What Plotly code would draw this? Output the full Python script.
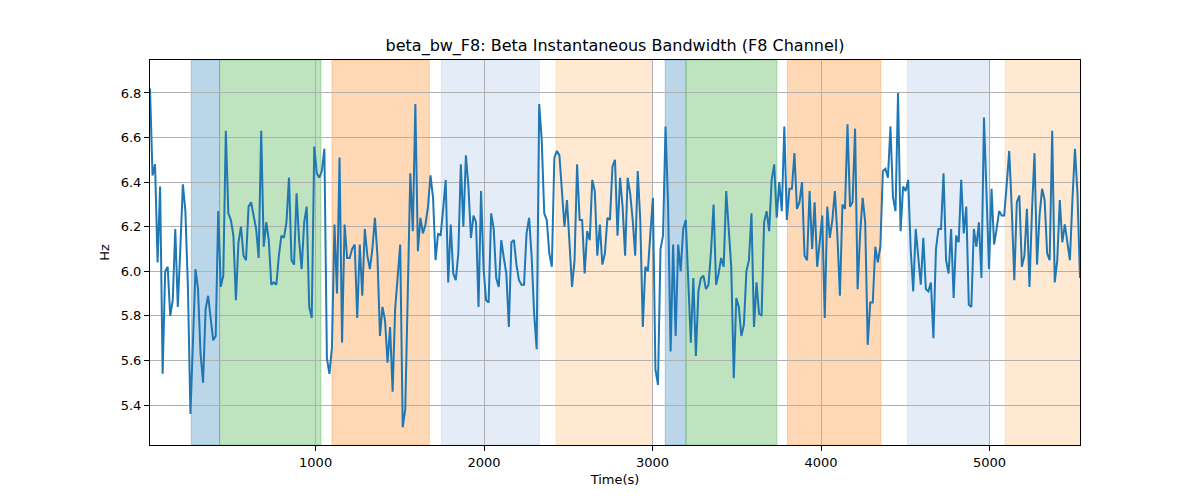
import plotly.graph_objects as go

# beta bandwidth, F8 channel, one sample every 15 s
t_start = 17
t_step = 15
beta_bw = [
    6.82, 6.43, 6.48, 6.04, 6.38, 5.54, 6.00, 6.02, 5.80, 5.87, 6.19, 5.84, 6.10, 6.39, 6.27, 5.93,
    5.36, 5.66, 6.01, 5.92, 5.63, 5.50, 5.83, 5.89, 5.80, 5.69, 5.71, 6.27, 5.93, 5.98, 6.63, 6.26,
    6.23, 6.16, 5.87, 6.13, 6.20, 6.07, 6.05, 6.29, 6.31, 6.25, 6.19, 6.06, 6.63, 6.11, 6.22, 6.14,
    5.94, 5.95, 5.94, 6.07, 6.16, 6.15, 6.22, 6.42, 6.05, 6.03, 6.35, 6.14, 6.01, 6.22, 6.29, 5.84,
    5.79, 6.56, 6.44, 6.42, 6.45, 6.55, 5.61, 5.54, 5.66, 6.21, 5.90, 6.51, 5.68, 6.21, 6.06, 6.06,
    6.10, 6.12, 5.79, 6.12, 5.89, 6.19, 6.07, 6.01, 6.10, 6.24, 6.07, 5.71, 5.84, 5.78, 5.59, 5.75,
    5.46, 5.83, 5.96, 6.12, 5.30, 5.38, 5.90, 6.44, 6.18, 6.75, 6.09, 6.24, 6.17, 6.21, 6.29, 6.43,
    6.33, 6.05, 6.17, 6.16, 6.28, 6.41, 5.95, 6.21, 5.99, 5.96,
    6.08, 6.48, 6.20, 6.52, 6.38, 6.15, 6.25, 6.22, 5.84, 6.36, 6.01, 5.87, 5.86, 6.26, 6.19, 5.97,
    5.93, 6.14, 6.06, 5.99, 5.75, 6.13, 6.14, 6.03, 5.96, 5.94, 5.94, 6.17, 6.24, 6.07, 5.81, 5.65,
    6.75, 6.59, 6.26, 6.23, 6.08, 6.02, 6.51, 6.54, 6.52, 6.36, 6.20, 6.32, 6.11, 5.93, 6.05, 6.48,
    6.23, 6.23, 5.99, 6.18, 6.14, 6.41, 6.36, 6.07, 6.21, 6.03, 6.08, 6.24, 6.23,
    6.47, 6.50, 6.16, 6.42, 6.29, 6.07, 6.42, 6.35, 6.23, 6.07, 6.45, 6.23, 5.75, 6.02, 6.00, 6.17,
    6.33, 5.56, 5.49, 6.10, 6.16, 6.65, 6.30, 5.64, 6.12, 5.71, 6.12, 6.00, 6.19, 6.23, 5.96, 5.68,
    5.97, 5.62, 5.91, 5.97, 5.98, 5.92, 5.94, 6.09, 6.30, 5.94, 5.99, 6.06, 6.02, 6.36, 6.19, 6.02,
    5.52, 5.88, 5.84, 5.71, 5.76, 6.00, 6.05, 6.26, 5.75, 5.95, 5.81,
    5.80, 6.22, 6.27, 6.18, 6.41, 6.48, 6.24, 6.40, 6.27, 6.65, 6.23, 6.37, 6.37, 6.53, 6.28, 6.31,
    6.40, 6.07, 6.05, 6.36, 6.10, 6.31, 6.02, 6.13, 6.25, 5.79, 6.29, 6.15, 6.23, 6.36, 6.16, 5.89,
    6.30, 6.28, 6.66, 6.29, 6.31, 6.64, 5.92, 6.17, 6.33, 6.22, 5.67, 5.86, 5.86, 6.11, 6.04, 6.11,
    6.45, 6.46, 6.42, 6.65, 6.33, 6.27, 6.80, 6.18, 6.38, 6.36, 6.41, 6.10, 5.91, 6.19, 6.05, 5.94,
    6.15, 5.92, 5.91, 5.95, 5.70, 6.10, 6.19, 6.19, 6.44, 6.05, 5.99, 6.19, 5.88, 6.16, 6.13, 6.41,
    6.17, 6.29, 5.85, 5.84, 6.19, 6.11, 6.22, 5.97, 6.69, 6.37, 6.01, 6.37, 6.12, 6.19, 6.27, 6.25,
    6.25, 6.39, 6.54, 6.28, 5.96, 6.31, 6.34, 6.02, 6.07, 6.28, 5.93, 6.27, 6.53, 6.03, 6.25, 6.37,
    6.32, 6.08, 6.05, 6.63, 5.95, 6.05, 6.32, 6.13, 6.21, 6.13, 6.05, 6.32, 6.55, 6.35, 5.97,
]
times = [t_start + t_step * i for i in range(len(beta_bw))]

# shaded epochs: start, end, colour
span_start = [262, 430, 1097, 1746, 2427, 3075, 3198, 3801, 4513, 5093]
span_end = [430, 1032, 1675, 2328, 3000, 3198, 3738, 4355, 5002, 5560]
span_color = [
    "rgba(31,119,180,0.3)", "rgba(44,160,44,0.3)", "rgba(255,127,14,0.3)",
    "rgba(174,199,232,0.33)", "rgba(255,187,120,0.33)",
    "rgba(31,119,180,0.3)", "rgba(44,160,44,0.3)", "rgba(255,127,14,0.3)",
    "rgba(174,199,232,0.33)", "rgba(255,187,120,0.33)",
]

fig = go.Figure()
for x0, x1, c in zip(span_start, span_end, span_color):
    fig.add_vrect(x0=x0, x1=x1, fillcolor=c, line=dict(color=c, width=1), layer="below")

fig.add_trace(go.Scatter(x=times, y=beta_bw, mode="lines",
                         line=dict(color="#1f77b4", width=2), showlegend=False))

axis_style = dict(showline=True, mirror=True, linecolor="black", linewidth=1,
                  ticks="outside", ticklen=5, tickcolor="black",
                  showgrid=True, gridcolor="#b0b0b0", gridwidth=1, zeroline=False,
                  tickfont=dict(size=13, color="black"))

fig.update_xaxes(range=[times[0], times[-1]], tickvals=[1000, 2000, 3000, 4000, 5000],
                 title=dict(text="Time(s)", font=dict(size=13, color="black"), standoff=6),
                 **axis_style)
fig.update_yaxes(range=[5.2206, 6.948], tickvals=[5.4, 5.6, 5.8, 6.0, 6.2, 6.4, 6.6, 6.8],
                 tickformat=".1f",
                 title=dict(text="Hz", font=dict(size=13, color="black"), standoff=8),
                 **axis_style)

# page body has an 8px margin, so the figure is shrunk by 8px each way
fig.update_layout(
    width=1192, height=492,
    margin=dict(l=142, r=120, t=52, b=55),
    paper_bgcolor="white", plot_bgcolor="white",
    font=dict(family="DejaVu Sans", color="black"),
    title=dict(text="beta_bw_F8: Beta Instantaneous Bandwidth (F8 Channel)",
               x=0.5, xanchor="center", xref="paper", y=0.925, yanchor="middle",
               font=dict(size=16, color="black")),
)

fig.write_html("out.html")
